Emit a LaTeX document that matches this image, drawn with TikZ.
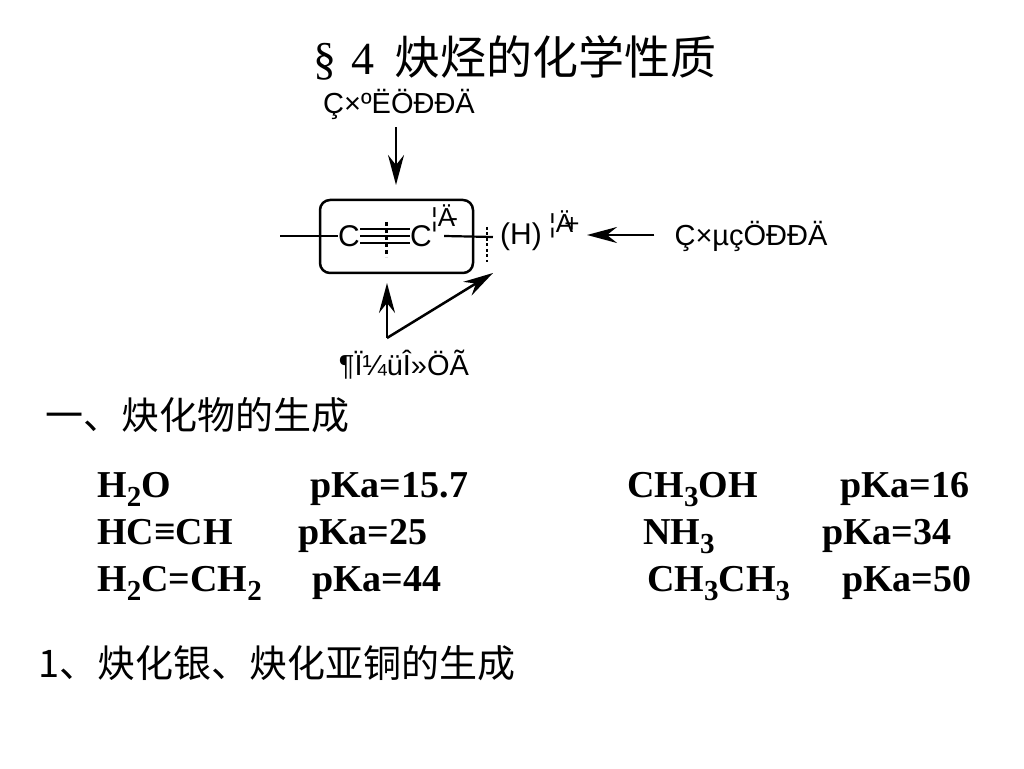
\documentclass[tikz,border=0pt]{standalone}
\usepackage{fontspec}
\setmainfont{Liberation Serif}
\newfontfamily\arial{Liberation Sans}
\newfontfamily\cjk{Noto Sans CJK SC}
\usetikzlibrary{arrows.meta,calc}
\newcommand\chsub[1]{\raisebox{-9pt}{\fontsize{29}{29}\selectfont #1}}
\begin{document}
\begin{tikzpicture}[x=1pt,y=1pt]
            \tikzset{
                lbl/.style={font=\arial\fontsize{29}{29}\selectfont,inner sep=0pt},
                atom/.style={font=\arial\fontsize{30}{30}\selectfont,inner sep=0pt},
                delta/.style={font=\arial\fontsize{26}{26}\selectfont,inner sep=0pt,anchor=base west},
                head/.style={font=\cjk\fontsize{38}{38}\selectfont,inner sep=0pt,anchor=west},
                chem/.style={font=\bfseries\fontsize{38}{38}\selectfont,inner sep=0pt,anchor=base west},
                bond/.style={line width=2.2pt},
                arr/.style={-{Stealth[length=30pt,width=16pt,inset=10pt]},line width=2.5pt},}
            \useasboundingbox (0,0) rectangle (1024,768);
            \node [font=\cjk\fontsize{46}{46}\selectfont,inner sep=0pt] (title) at (515,710) {{\rmfamily §\,\,4}\ \ 炔烃的化学性质};
            % the alkyne core
            \node [draw,rounded corners=10pt,line width=2.5pt,minimum width=153pt,minimum height=73pt] (core) at (396.5,531.5) {};
            \node [atom] (c1) at (349,532) {C};
            \node [atom] (c2) at (421,532) {C};
            \foreach \d in {-7,0,7}
                \draw [bond] ([yshift=\d pt]c1.east) -- ([yshift=\d pt]c2.west);
            \draw [bond] (280,532) -- (c1.west);
            \node [delta] (dm) at (431,541) {¦Ä\kern-6pt-};
            \node [atom] (h) at (521,531) {(H)};
            \node [delta] (dp) at (549,535) {¦Ä\kern-9pt+};
            \draw [bond] ([xshift=12pt]c2.east) -- ([xshift=-7pt]h.west);
            \draw [bond,dash pattern=on 4pt off 3pt] ($(c1)!0.52!(c2)+(0,14)$) -- ($(c1)!0.52!(c2)+(0,-21)$);
            \draw [bond,dash pattern=on 3pt off 2.5pt] (487,541) -- (487,506);
            % labels and arrows
            \node [lbl] (nucl) at (399,664) {Ç×ºËÖÐÐÄ};
            \coordinate (ntip) at (396,583);
            \draw [arr] (nucl.south -| ntip) ++(0,-8) -- (ntip);
            \node [lbl] (elec) at (751,532) {Ç×µçÖÐÐÄ};
            \coordinate (etip) at (587,533);
            \draw [arr] ([xshift=-20pt]elec.west |- etip) -- (etip);
            \node [lbl] (brk) at (404,403) {¶Ï¼üÎ»ÖÃ};
            \coordinate (bend) at (387,430);
            \draw [arr] (bend) -- (387,485);
            \draw [arr] (bend) -- (493,495);
            % acidity
            \node [head] (sec1) at (45,353) {一、炔化物的生成};
            \node [chem] (w) at (97,270) {H\chsub{2}O};
            \node [chem] (wk) at (310,270) {pKa=15.7};
            \node [chem] (ac) at (97,223) {HC≡CH};
            \node [chem] (ack) at (298,223) {pKa=25};
            \node [chem] (et) at (97,176) {H\chsub{2}C=CH\chsub{2}};
            \node [chem] (etk) at (312,176) {pKa=44};
            \node [chem] (me) at (627,270) {CH\chsub{3}OH};
            \node [chem] (mek) at (840,270) {pKa=16};
            \node [chem] (am) at (643,223) {NH\chsub{3}};
            \node [chem] (amk) at (822,223) {pKa=34};
            \node [chem] (ea) at (647,176) {CH\chsub{3}CH\chsub{3}};
            \node [chem] (eak) at (842,176) {pKa=50};
            \node [head] (sec2) at (38,105) {1、炔化银、炔化亚铜的生成};
        \end{tikzpicture}
\end{document}
